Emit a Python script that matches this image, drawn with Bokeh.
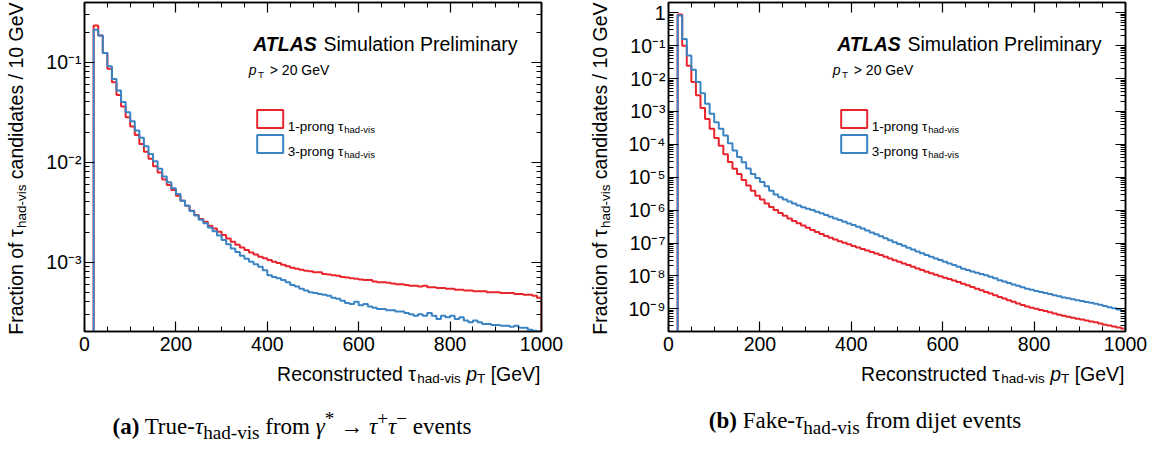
import math
from bokeh.plotting import figure
from bokeh.layouts import row, column
from bokeh.models import (FixedTicker, LinearAxis, LogAxis, Label, BoxAnnotation,
                          CustomJSTickFormatter, Div, Range1d)
from bokeh.embed import file_html
from bokeh.resources import INLINE

# ---------------- data (fraction per 10 GeV bin, bins 0-10 ... 990-1000) ----------------
bin_edges = list(range(0, 1001, 10))

true_1prong = [
    0, 0, 0.233, 0.185, 0.124, 0.086, 0.063, 0.047, 0.036, 0.0281,
    0.0227, 0.0187, 0.0152, 0.0127, 0.0108, 0.0091, 0.0079, 0.0067, 0.0059, 0.00526,
    0.00461, 0.00411, 0.00366, 0.00327, 0.00296, 0.0027, 0.00254, 0.00231, 0.00217, 0.00201,
    0.00187, 0.00172, 0.0016, 0.00149, 0.0014, 0.00132, 0.00125, 0.00119, 0.00113, 0.00109,
    0.00105, 0.00101, 0.00098, 0.00094, 0.00091, 0.00088, 0.00086, 0.00084, 0.00082, 0.00081,
    0.00079, 0.00079, 0.00076, 0.00075, 0.00074, 0.00073, 0.00071, 0.0007, 0.00069, 0.00068,
    0.00067, 0.00066, 0.00066, 0.00064, 0.00063, 0.00063, 0.00062, 0.00061, 0.0006, 0.0006,
    0.00059, 0.00058, 0.00058, 0.00057, 0.00058, 0.00056, 0.00056, 0.00055, 0.00055, 0.00054,
    0.00054, 0.00053, 0.00053, 0.00052, 0.00052, 0.00051, 0.00051, 0.00051, 0.0005, 0.0005,
    0.0005, 0.00049, 0.00049, 0.00049, 0.00048, 0.00048, 0.00047, 0.00047, 0.00046, 0.00044,
]
true_3prong = [
    0, 0, 0.211, 0.185, 0.124, 0.091, 0.068, 0.052, 0.040, 0.0316,
    0.0256, 0.0207, 0.0175, 0.0144, 0.0121, 0.0102, 0.0086, 0.0072, 0.0063, 0.00547,
    0.0048, 0.00411, 0.00366, 0.00325, 0.00292, 0.00265, 0.00244, 0.00222, 0.00203, 0.00184,
    0.00166, 0.00151, 0.00137, 0.00126, 0.00116, 0.00108, 0.00101, 0.00095, 0.0009, 0.00083,
    0.00074, 0.00071, 0.00069, 0.00066, 0.00063, 0.00059, 0.00057, 0.00054, 0.00052, 0.0005,
    0.00049, 0.00048, 0.00047, 0.00046, 0.00044, 0.00043, 0.00041, 0.00039, 0.00038, 0.0004,
    0.00037, 0.00038, 0.00036, 0.00035, 0.00034, 0.00034, 0.00033, 0.00033, 0.00032, 0.00032,
    0.00031, 0.0003, 0.00029, 0.0003, 0.00029, 0.00031, 0.00029, 0.00027, 0.00029, 0.00028,
    0.00029, 0.00027, 0.00028, 0.00026, 0.00025, 0.00026, 0.00025, 0.00024, 0.00024, 0.000235,
    0.000235, 0.00023, 0.00023, 0.000225, 0.00023, 0.00022, 0.00022, 0.00021, 0.000205, 0.000202,
]
fake_1prong = [
    0, 0, 0.88, 0.1, 0.0246, 0.0079, 0.0031, 0.00128, 0.00059, 0.000295,
    1.55e-4, 9.1e-5, 5.0e-5, 2.9e-5, 1.8e-5, 1.26e-5, 8.3e-6, 5.6e-6, 3.9e-6, 2.75e-6,
    2.1e-6, 1.6e-6, 1.25e-6, 1.0e-6, 8.1e-7, 6.7e-7, 5.6e-7, 4.7e-7, 4.0e-7, 3.4e-7,
    2.9e-7, 2.5e-7, 2.15e-7, 1.87e-7, 1.63e-7, 1.45e-7, 1.28e-7, 1.14e-7, 1.02e-7, 9.1e-8,
    8.1e-8, 7.3e-8, 6.6e-8, 5.9e-8, 5.3e-8, 4.8e-8, 4.3e-8, 3.8e-8, 3.4e-8, 3.0e-8,
    2.7e-8, 2.4e-8, 2.13e-8, 1.9e-8, 1.68e-8, 1.5e-8, 1.33e-8, 1.2e-8, 1.08e-8, 9.8e-9,
    8.8e-9, 8.0e-9, 7.2e-9, 6.5e-9, 5.8e-9, 5.2e-9, 4.6e-9, 4.1e-9, 3.65e-9, 3.25e-9,
    2.9e-9, 2.6e-9, 2.3e-9, 2.05e-9, 1.83e-9, 1.63e-9, 1.46e-9, 1.3e-9, 1.17e-9, 1.08e-9,
    1.0e-9, 9.2e-10, 8.5e-10, 7.8e-10, 7.2e-10, 6.6e-10, 6.1e-10, 5.7e-10, 5.3e-10, 5.0e-10,
    4.7e-10, 4.4e-10, 4.1e-10, 3.9e-10, 3.6e-10, 3.3e-10, 3.1e-10, 2.9e-10, 2.7e-10, 2.5e-10,
]
fake_3prong = [
    0, 0, 0.82, 0.158, 0.05, 0.0186, 0.0079, 0.0036, 0.0017, 0.00085,
    4.7e-4, 2.95e-4, 1.86e-4, 1.07e-4, 6.5e-5, 4.1e-5, 2.85e-5, 1.85e-5, 1.26e-5, 9.5e-6,
    7.1e-6, 5.3e-6, 3.9e-6, 3.0e-6, 2.45e-6, 2.1e-6, 1.82e-6, 1.58e-6, 1.38e-6, 1.23e-6,
    1.1e-6, 1.0e-6, 8.9e-7, 8.0e-7, 7.1e-7, 6.3e-7, 5.6e-7, 5.0e-7, 4.45e-7, 3.95e-7,
    3.5e-7, 3.1e-7, 2.75e-7, 2.4e-7, 2.1e-7, 1.84e-7, 1.6e-7, 1.4e-7, 1.22e-7, 1.06e-7,
    9.3e-8, 8.2e-8, 7.2e-8, 6.3e-8, 5.5e-8, 4.9e-8, 4.35e-8, 3.85e-8, 3.4e-8, 3.05e-8,
    2.7e-8, 2.4e-8, 2.13e-8, 1.9e-8, 1.65e-8, 1.5e-8, 1.37e-8, 1.25e-8, 1.14e-8, 1.04e-8,
    9.4e-9, 8.5e-9, 7.4e-9, 6.7e-9, 6.1e-9, 5.5e-9, 5.0e-9, 4.5e-9, 4.1e-9, 3.8e-9,
    3.5e-9, 3.25e-9, 3.0e-9, 2.8e-9, 2.6e-9, 2.4e-9, 2.22e-9, 2.08e-9, 1.95e-9, 1.83e-9,
    1.72e-9, 1.62e-9, 1.52e-9, 1.43e-9, 1.33e-9, 1.22e-9, 1.12e-9, 1.03e-9, 9.5e-10, 8.5e-10,
]

x_major_ticks = [0, 200, 400, 600, 800, 1000]
x_minor_ticks = list(range(0, 1001, 50))
true_y_major = [1e-3, 1e-2, 1e-1]
fake_y_major = [1e-9, 1e-8, 1e-7, 1e-6, 1e-5, 1e-4, 1e-3, 1e-2, 1e-1, 1.0]
true_y_range = (2.02e-4, 0.396)
fake_y_range = (2.04e-10, 2.05)

legend_labels = ["1-prong τ", "3-prong τ"]
sub_label = "had-vis"
captions = [
    "<b>(a)</b> True-<i>τ</i><sub>had-vis</sub> from <i>γ</i><sup>*</sup> → "
    "<i>τ</i><sup>+</sup><i>τ</i><sup>−</sup> events",
    "<b>(b)</b> Fake-<i>τ</i><sub>had-vis</sub> from dijet events",
]

RED = "#e8242c"
BLUE = "#3a84c4"
FONT = "Liberation Sans"

# Arial / Liberation Sans advance widths (1/1000 em), used only to place text pieces
ARIAL = {' ': 278, '-': 333, '/': 278, '>': 584, '[': 278, ']': 278,
         'A': 667, 'C': 722, 'F': 611, 'G': 778, 'L': 556, 'P': 667, 'R': 722,
         'S': 667, 'T': 611, 'V': 667, 'a': 556, 'c': 500, 'd': 556, 'e': 556,
         'f': 278, 'g': 556, 'h': 556, 'i': 222, 'l': 222, 'm': 833, 'n': 556,
         'o': 556, 'p': 556, 'r': 333, 's': 500, 't': 278, 'u': 556, 'v': 500,
         'y': 500, 'τ': 460}
for _d in "0123456789":
    ARIAL[_d] = 556


def tw(s, size):
    return sum(ARIAL.get(c, 556) for c in s) / 1000.0 * size


SUP_CODE = """
const e = Math.round(Math.log10(tick));
if (e === 0) { return "1"; }
const m = {"-": "\\u207b", "0": "\\u2070", "1": "\\u00b9", "2": "\\u00b2", "3": "\\u00b3",
           "4": "\\u2074", "5": "\\u2075", "6": "\\u2076", "7": "\\u2077", "8": "\\u2078", "9": "\\u2079"};
let s = "";
for (const c of String(e)) { s += m[c]; }
return "10" + s;
"""

M = 19.5   # main text size
S = 13.5   # subscript size


def style_axis(ax, labels=True):
    ax.axis_line_color = "black"
    ax.axis_line_width = 1.5
    ax.major_tick_line_color = "black"
    ax.minor_tick_line_color = "black"
    ax.major_tick_line_width = 1.2
    ax.minor_tick_line_width = 1.0
    ax.major_tick_in = 10
    ax.major_tick_out = 0
    ax.minor_tick_in = 5
    ax.minor_tick_out = 0
    ax.major_label_text_font = FONT
    ax.major_label_text_font_size = f"{M}px"
    ax.major_label_text_color = "black"
    if not labels:
        ax.major_label_standoff = 0
        ax.formatter = CustomJSTickFormatter(code="return '';")


def txt(p, x, y, s, size, style="normal", angle=0.0):
    p.add_layout(Label(x=x, y=y, x_units="screen", y_units="screen", text=s,
                       text_font=FONT, text_font_size=f"{size}px", text_font_style=style,
                       text_color="black", angle=angle, text_align="left",
                       text_baseline="alphabetic"))


def text_fig(fw, fh, left=0, right=0):
    f = figure(frame_width=fw, frame_height=fh, x_range=Range1d(0, 1), y_range=Range1d(0, 1),
               x_axis_location=None, y_axis_location=None, min_border=0,
               min_border_left=left, min_border_right=right,
               outline_line_color=None, toolbar_location=None, output_backend="svg",
               background_fill_color="white", border_fill_color="white")
    f.grid.visible = False
    return f


FW, FH = 457, 329
LEFT_B, TOP_B, BOT_B = 44, 2, 30
YT_W = 40
XT_H = 32


def make_panel(v1, v3, yr, ymaj, right_border):
    p = figure(frame_width=FW, frame_height=FH, x_range=Range1d(0, 1000),
               y_range=Range1d(*yr), y_axis_type="log", output_backend="svg",
               toolbar_location=None, min_border_left=LEFT_B, min_border_right=right_border,
               min_border_top=TOP_B, min_border_bottom=BOT_B,
               background_fill_color="white", border_fill_color="white",
               outline_line_color="black", outline_line_width=1.5)
    p.grid.visible = False
    ymin = [k * 10.0 ** e for e in range(-11, 1) for k in range(2, 10)
            if yr[0] <= k * 10.0 ** e <= yr[1]]

    p.xaxis.ticker = FixedTicker(ticks=x_major_ticks, minor_ticks=x_minor_ticks)
    p.yaxis.ticker = FixedTicker(ticks=ymaj, minor_ticks=ymin)
    p.yaxis.formatter = CustomJSTickFormatter(code=SUP_CODE)
    style_axis(p.xaxis[0])
    style_axis(p.yaxis[0])
    p.xaxis.major_label_standoff = 5
    p.yaxis.major_label_standoff = 3

    top = LinearAxis(ticker=FixedTicker(ticks=x_major_ticks, minor_ticks=x_minor_ticks))
    style_axis(top, labels=False)
    p.add_layout(top, "above")
    right = LogAxis(ticker=FixedTicker(ticks=ymaj, minor_ticks=ymin))
    style_axis(right, labels=False)
    p.add_layout(right, "right")

    floor = yr[0] * 1e-3
    for vals, col in ((v1, RED), (v3, BLUE)):
        ys = [v if v > 0 else floor for v in vals] + [floor]
        p.step(x=bin_edges, y=ys, mode="after", line_color=col, line_width=2)

    # ATLAS label
    txt(p, 168.7, 287.4, "ATLAS", M, "bold italic")
    txt(p, 239.0, 287.4, "Simulation Preliminary", M)
    # pT > 20 GeV
    txt(p, 164.3, 261.4, "p", 14, "italic")
    txt(p, 173.5, 257.0, "T", 9.8)
    txt(p, 185.3, 261.4, "> 20 GeV", 14)

    # legend
    for i, col in enumerate((RED, BLUE)):
        dy = -25.0 * i
        p.add_layout(BoxAnnotation(left=172.7, right=198.7, bottom=203.4 + dy, top=221.4 + dy,
                                   left_units="screen", right_units="screen",
                                   bottom_units="screen", top_units="screen",
                                   fill_color="white", fill_alpha=1.0,
                                   line_color=col, line_width=2, line_alpha=1.0))
        txt(p, 203.3, 204.7 + dy, legend_labels[i], 13.5)
        txt(p, 203.3 + tw(legend_labels[i], 13.5), 201.7 + dy, sub_label, 9.5)

    main_h = TOP_B + FH + BOT_B

    # x axis title (text strip under the plot, frame aligned with the plot frame)
    xt = text_fig(FW, XT_H, left=LEFT_B, right=right_border)
    w1 = tw("Reconstructed τ", M)
    w2 = tw(sub_label, S)
    sp = tw(" ", M)
    wp = tw("p", M)
    wT = tw("T", S)
    wg = tw("[GeV]", M)
    x0 = FW - 1 - (w1 + w2 + sp + wp + wT + sp + wg)
    yb = 20.0
    txt(xt, x0, yb, "Reconstructed τ", M)
    txt(xt, x0 + w1, yb - 5, sub_label, S)
    txt(xt, x0 + w1 + w2 + sp, yb, "p", M, "italic")
    txt(xt, x0 + w1 + w2 + sp + wp, yb - 5, "T", S)
    txt(xt, x0 + w1 + w2 + sp + wp + wT + sp, yb, "[GeV]", M)

    # y axis title (rotated text strip left of the plot)
    yt = text_fig(YT_W, main_h)
    a = math.pi / 2
    u1 = tw("Fraction of τ", M)
    u2 = tw(sub_label, S)
    u3 = tw("candidates / 10 GeV", M)
    top_y = main_h - TOP_B
    y0 = top_y - (u1 + u2 + sp + u3)
    xb = 15.5
    txt(yt, xb, y0, "Fraction of τ", M, angle=a)
    txt(yt, xb + 5, y0 + u1, sub_label, S, angle=a)
    txt(yt, xb, y0 + u1 + u2 + sp, "candidates / 10 GeV", M, angle=a)

    return row(yt, column(p, xt))


panel_a = make_panel(true_1prong, true_3prong, true_y_range, true_y_major, 43)
panel_b = make_panel(fake_1prong, fake_3prong, fake_y_range, fake_y_major, 30)

cap_style = {"font-family": "'Liberation Serif', serif", "font-size": "23px",
             "text-align": "center", "color": "black", "line-height": "1.2"}
d1 = Div(text=captions[0], width=584, height=28, margin=(14, 0, 0, 0), styles=cap_style)
d2 = Div(text=captions[1], width=562, height=28, margin=(14, 0, 0, 0), styles=cap_style)

layout = column(row(panel_a, panel_b), row(d1, d2))
open("out.html", "w").write(file_html(layout, INLINE))
